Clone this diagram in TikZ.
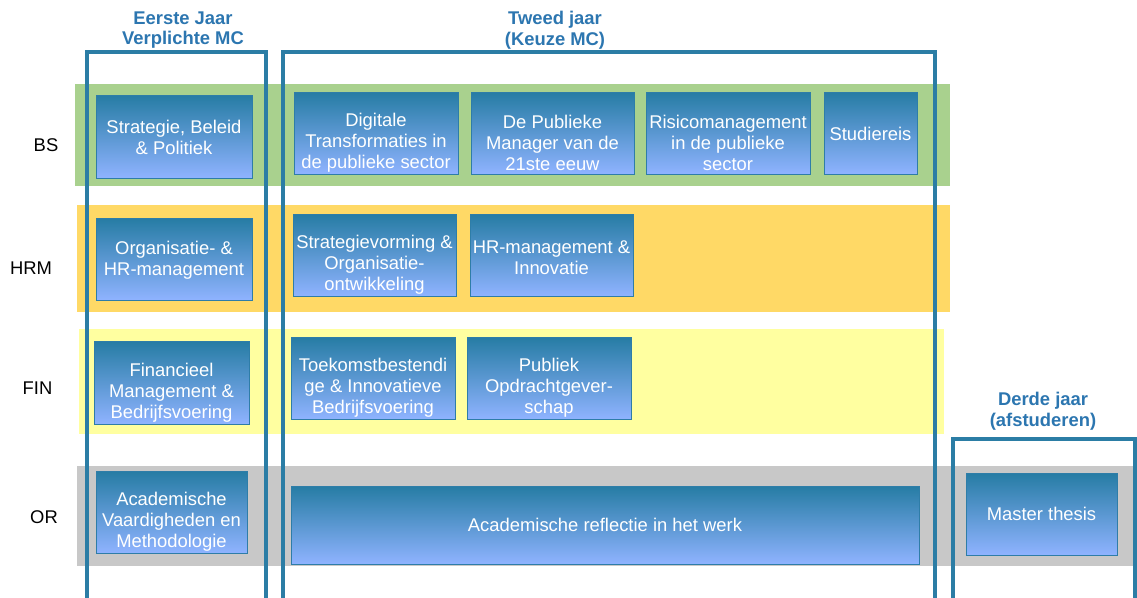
\documentclass[tikz,border=0pt]{standalone}
\usepackage{fontspec}
\setmainfont{Liberation Sans}
\usetikzlibrary{calc}
\definecolor{bandgreen}{RGB}{169,209,142}
\definecolor{bandorange}{RGB}{255,217,102}
\definecolor{bandyellow}{RGB}{255,255,160}
\definecolor{bandgray}{RGB}{200,200,200}
\definecolor{frameblue}{RGB}{43,125,165}
\definecolor{headblue}{RGB}{44,118,176}
\definecolor{boxtop}{RGB}{38,124,164}
\definecolor{boxbot}{RGB}{143,179,255}
\definecolor{boxline}{RGB}{46,125,168}
\tikzset{
  band/.style={draw=none},
  cbox/.style={draw=boxline, line width=1pt, top color=boxtop, bottom color=boxbot, shading angle=0},
  ctext/.style={text=white, font=\fontsize{18.4}{21}\selectfont, align=center, inner sep=0pt},
  rowlabel/.style={text=black, font=\fontsize{18.4}{21}\selectfont, inner sep=0pt},
  header/.style={text=headblue, font=\bfseries\fontsize{18.4}{20.5}\selectfont, align=center, inner sep=0pt},
  colframe/.style={draw=frameblue, line width=4pt}
}
\newcommand{\mybox}[6]{% name, x1,y1,x2,y2, shift
  \path[cbox] (#2,#3) rectangle (#4,#5);
  \coordinate (#1) at ({(#2+#4)/2},{(#3+#5)/2+#6});
}
\begin{document}
\begin{tikzpicture}[x=1pt,y=-1pt]
\useasboundingbox (0,0) rectangle (1137,597);
\fill[white] (0,0) rectangle (1137,597);
\begin{scope}
\clip (0,0) rectangle (1137,597);
% bands
\fill[bandgreen] (75,84) rectangle (950,186);
\fill[bandorange] (77,205) rectangle (950,312);
\fill[bandyellow] (79,329) rectangle (944,434);
\fill[bandgray] (77,466) rectangle (1137,566);
% row labels
\node[rowlabel] (lbs) at (46,145) {BS};
\node[rowlabel] (lhrm) at (31,268) {HRM};
\node[rowlabel] (lfin) at (37.5,388) {FIN};
\node[rowlabel] (lor) at (44,517) {OR};
% boxes
\mybox{b1}{96}{95}{252}{178}{1}
\mybox{b2}{294}{92}{458}{174}{10}
\mybox{b3}{471}{92}{634}{174}{10}
\mybox{b4}{646}{92}{810}{174}{10}
\mybox{b5}{824}{92}{917}{174}{1}
\mybox{h1}{96}{218}{252}{300}{1}
\mybox{h2}{293}{214}{456}{296}{10}
\mybox{h3}{470}{214}{633}{296}{3}
\mybox{f1}{94}{341}{249}{424}{10}
\mybox{f2}{291}{337}{455}{419}{10}
\mybox{f3}{467}{337}{631}{419}{10}
\mybox{o1}{96}{471}{247}{553}{10}
\mybox{o2}{291}{486}{919}{564}{0}
\mybox{o3}{966}{473}{1117}{555}{0}
\node[ctext] (t-b1) at (b1) {Strategie, Beleid\\\& Politiek};
\node[ctext] (t-b2) at (b2) {Digitale\\Transformaties in\\de publieke sector};
\node[ctext] (t-b3) at (b3) {De Publieke\\Manager van de\\21ste eeuw};
\node[ctext] (t-b4) at (b4) {Risicomanagement\\in de publieke\\sector};
\node[ctext] (t-b5) at (b5) {Studiereis};
\node[ctext] (t-h1) at (h1) {Organisatie- \&\\HR-management};
\node[ctext] (t-h2) at (h2) {Strategievorming \&\\Organisatie-\\ontwikkeling};
\node[ctext] (t-h3) at (h3) {HR-management \&\\Innovatie};
\node[ctext] (t-f1) at (f1) {Financieel\\Management \&\\Bedrijfsvoering};
\node[ctext] (t-f2) at (f2) {Toekomstbestendi\\ge \& Innovatieve\\Bedrijfsvoering};
\node[ctext] (t-f3) at (f3) {Publiek\\Opdrachtgever-\\schap};
\node[ctext] (t-o1) at (o1) {Academische\\Vaardigheden en\\Methodologie};
\node[ctext] (t-o2) at (o2) {Academische reflectie in het werk};
\node[ctext] (t-o3) at (o3) {Master thesis};
% column frames
\draw[colframe] (87,600) -- (87,52) -- (266,52) -- (266,600);
\draw[colframe] (283,600) -- (283,52) -- (935,52) -- (935,600);
\draw[colframe] (953,600) -- (953,439) -- (1135,439) -- (1135,600);
% headers
\node[header] (hd1) at (183,30) {Eerste Jaar\\Verplichte MC};
\node[header] (hd2) at (555,30) {Tweed jaar\\(Keuze MC)};
\node[header] (hd3) at (1043,411) {Derde jaar\\(afstuderen)};
\end{scope}
\end{tikzpicture}
\end{document}
